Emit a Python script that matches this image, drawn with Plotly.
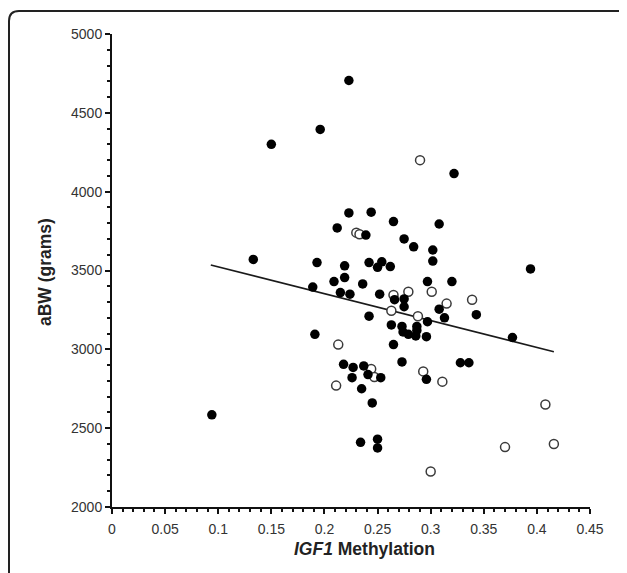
import plotly.graph_objects as go

# Filled circles
filled_x = [0.094, 0.133, 0.150, 0.196, 0.223, 0.223, 0.244, 0.265, 0.212, 0.239,
            0.193, 0.219, 0.242, 0.254, 0.250, 0.262, 0.209, 0.219, 0.189, 0.236,
            0.215, 0.224, 0.252, 0.266, 0.242, 0.263, 0.191, 0.265, 0.218, 0.227,
            0.237, 0.226, 0.241, 0.253, 0.235, 0.245, 0.234, 0.250, 0.250, 0.322,
            0.308, 0.275, 0.284, 0.302, 0.302, 0.394, 0.297, 0.320, 0.275, 0.275,
            0.308, 0.343, 0.313, 0.297, 0.273, 0.287, 0.274, 0.279, 0.286, 0.287,
            0.296, 0.377, 0.273, 0.328, 0.336, 0.296]
filled_y = [2585, 3570, 4300, 4395, 4705, 3865, 3870, 3810, 3770, 3725,
            3550, 3530, 3550, 3555, 3520, 3525, 3430, 3455, 3395, 3415,
            3360, 3350, 3350, 3315, 3210, 3155, 3095, 3030, 2905, 2885,
            2895, 2820, 2840, 2820, 2750, 2660, 2410, 2430, 2375, 4115,
            3795, 3700, 3650, 3630, 3560, 3510, 3430, 3430, 3320, 3270,
            3255, 3220, 3200, 3175, 3145, 3145, 3110, 3095, 3085, 3120,
            3080, 3075, 2920, 2915, 2915, 2810]

# Open circles
open_x = [0.230, 0.233, 0.265, 0.263, 0.213, 0.244, 0.247, 0.211, 0.290, 0.279,
          0.301, 0.315, 0.339, 0.288, 0.293, 0.311, 0.408, 0.370, 0.416, 0.300]
open_y = [3740, 3730, 3345, 3245, 3030, 2875, 2825, 2770, 4200, 3365,
          3365, 3290, 3315, 3210, 2860, 2795, 2650, 2380, 2400, 2225]

# Trend line end points
trend_x = [0.093, 0.416]
trend_y = [3535, 2985]

OFF = 8  # default page body margin
W, H = 627 - OFF, 573 - OFF
L, R, T, B = 112 - OFF, 590 - OFF, 34 - OFF, 507 - OFF  # plot area pixel edges


def px(xp):
    return (xp - OFF - L) / (R - L)


def py(yp):
    return (B - (yp - OFF)) / (B - T)


fig = go.Figure()
fig.add_trace(go.Scatter(
    x=trend_x, y=trend_y, mode="lines",
    line=dict(color="#1a1a1a", width=1.7), showlegend=False, hoverinfo="skip"))
fig.add_trace(go.Scatter(
    x=open_x, y=open_y, mode="markers",
    marker=dict(symbol="circle", size=9, color="white",
                line=dict(color="#3a3a3a", width=1.5)),
    showlegend=False))
fig.add_trace(go.Scatter(
    x=filled_x, y=filled_y, mode="markers",
    marker=dict(symbol="circle", size=9.5, color="black",
                line=dict(color="black", width=0)),
    showlegend=False))

tick_font = dict(family="Liberation Sans, Arial, sans-serif", size=14, color="#333333")
axis_common = dict(
    showgrid=False, zeroline=False, showline=True, linecolor="#111111",
    linewidth=2, ticks="outside", ticklen=5, tickwidth=1.5, tickcolor="#111111",
    tickfont=tick_font,
)

fig.update_xaxes(range=[0, 0.45], dtick=0.05, tick0=0, ticklabelstandoff=3,
                 minor=dict(dtick=0.01, ticks="outside", ticklen=3, tickwidth=1.5,
                            tickcolor="#111111"),
                 **axis_common)
fig.update_yaxes(range=[2000, 5000], dtick=500, tick0=2000,
                 minor=dict(dtick=100, ticks="outside", ticklen=3, tickwidth=1.5,
                            tickcolor="#111111"),
                 **axis_common)

title_font = dict(family="Liberation Sans, Arial, sans-serif", size=17.5, color="#222222")
fig.add_annotation(xref="paper", yref="paper", x=px(45), y=py(272),
                   text="<b>aBW (grams)</b>", textangle=-90, showarrow=False,
                   font=title_font, xanchor="center", yanchor="middle")
fig.add_annotation(xref="paper", yref="paper", x=px(364), y=py(549),
                   text="<b><i>IGF1</i> Methylation</b>", showarrow=False,
                   font=title_font, xanchor="center", yanchor="middle")

# Frame (left and top edge with rounded corner)
x0, y0, x1, y1, r = px(9), py(580), px(640), py(11), 10
rx, ry = r / (R - L), r / (B - T)
fig.add_shape(type="path", xref="paper", yref="paper",
              path=f"M {x0},{y0} L {x0},{y1 - ry} Q {x0},{y1} {x0 + rx},{y1} L {x1},{y1}",
              line=dict(color="#222222", width=2))

fig.update_layout(
    width=W, height=H,
    margin=dict(l=L, r=W - R, t=T, b=H - B),
    plot_bgcolor="white", paper_bgcolor="white",
    showlegend=False,
)

fig.write_html("out.html")
